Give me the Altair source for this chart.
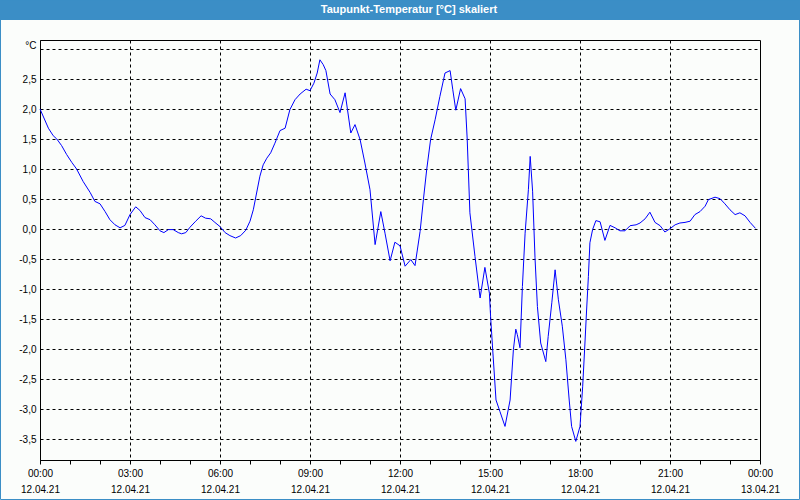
import altair as alt
import pandas as pd

# --- data (hours since 12.04.21 00:00, dew point in °C) ---
hours = [0.0, 0.28, 0.44, 0.56, 0.72, 0.89, 1.06, 1.22, 1.44, 1.67, 1.83, 2.0, 2.17, 2.33, 2.5, 2.67, 2.83,
         3.0, 3.19, 3.33, 3.5, 3.67, 3.83, 4.0, 4.13, 4.28, 4.44, 4.61, 4.72, 4.86, 5.0, 5.19, 5.37, 5.52,
         5.69, 5.83, 6.0, 6.17, 6.33, 6.52, 6.69, 6.86, 7.0, 7.11, 7.22, 7.33, 7.44, 7.56, 7.69, 7.83, 8.0,
         8.17, 8.33, 8.5, 8.67, 8.87, 9.0, 9.13, 9.24, 9.33, 9.44, 9.53, 9.67, 9.83, 10.0, 10.17, 10.36,
         10.5, 10.67, 10.83, 11.0, 11.17, 11.36, 11.5, 11.67, 11.83, 12.0, 12.17, 12.36, 12.5, 12.67,
         12.78, 12.89, 13.02, 13.17, 13.33, 13.5, 13.67, 13.76, 13.86, 14.02, 14.17, 14.24, 14.33, 14.5,
         14.67, 14.83, 14.98, 15.02, 15.09, 15.2, 15.33, 15.5, 15.67, 15.78, 15.86, 15.91, 16.0, 16.08,
         16.17, 16.28, 16.34, 16.42, 16.5, 16.58, 16.69, 16.86, 16.94, 17.06, 17.17, 17.28, 17.41, 17.53,
         17.64, 17.72, 17.86, 18.0, 18.09, 18.17, 18.22, 18.28, 18.33, 18.42, 18.53, 18.67, 18.83, 19.0,
         19.17, 19.33, 19.5, 19.67, 19.87, 20.0, 20.17, 20.33, 20.5, 20.67, 20.83, 21.0, 21.17, 21.33,
         21.5, 21.67, 21.83, 22.0, 22.17, 22.28, 22.5, 22.67, 22.83, 23.0, 23.17, 23.33, 23.5, 23.67, 23.85]
values = [2.0, 1.68, 1.555, 1.5, 1.39, 1.24, 1.11, 1.0, 0.79, 0.61, 0.46, 0.42, 0.29, 0.155, 0.07, 0.02, 0.06,
          0.24, 0.37, 0.31, 0.19, 0.155, 0.07, -0.03, -0.06, -0.01, -0.01, -0.06, -0.08, -0.06, 0.03, 0.13, 0.22, 0.18,
          0.17, 0.11, 0.04, -0.06, -0.11, -0.15, -0.11, -0.02, 0.13, 0.32, 0.6, 0.88, 1.07, 1.18, 1.27, 1.43, 1.64,
          1.68, 1.99, 2.155, 2.25, 2.33, 2.305, 2.43, 2.6, 2.82, 2.74, 2.64, 2.25, 2.155, 1.94, 2.27, 1.6,
          1.74, 1.49, 1.1, 0.655, -0.26, 0.29, -0.07, -0.53, -0.22, -0.28, -0.62, -0.51, -0.61, -0.04,
          0.49, 0.99, 1.49, 1.82, 2.21, 2.6, 2.64, 2.32, 1.98, 2.34, 2.17, 1.5, 0.27, -0.46,
          -1.15, -0.64, -1.07, -1.46, -2.01, -2.85, -3.04, -3.29, -2.85, -2.01, -1.67, -1.76, -1.98, -0.96,
          -0.07, 0.655, 1.21, 0.63, -0.48, -1.29, -1.9, -2.21, -1.79, -1.23, -0.68, -1.18, -1.62, -2.18,
          -2.85, -3.29, -3.54, -3.29, -2.62, -1.85, -1.35, -0.79, -0.23, -0.01, 0.14, 0.12, -0.19, 0.06,
          0.02, -0.03, -0.03, 0.055, 0.07, 0.1, 0.17, 0.28, 0.11, 0.055, -0.05, 0.005, 0.07, 0.1,
          0.11, 0.13, 0.24, 0.29, 0.38, 0.49, 0.53, 0.505, 0.42, 0.32, 0.24, 0.27, 0.22, 0.11, 0.01]

# --- tick labels ---
x_label_hours = [0, 3, 6, 9, 12, 15, 18, 21, 24]
x_label_time = ["00:00", "03:00", "06:00", "09:00", "12:00", "15:00", "18:00", "21:00", "00:00"]
x_label_date = ["12.04.21", "12.04.21", "12.04.21", "12.04.21", "12.04.21", "12.04.21", "12.04.21",
                "12.04.21", "13.04.21"]
x_tick_hours = list(range(0, 25))
y_ticks = [-3.5, -3.0, -2.5, -2.0, -1.5, -1.0, -0.5, 0.0, 0.5, 1.0, 1.5, 2.0, 2.5, 3.0]
y_unit_label = "°C"
title_text = "Taupunkt-Temperatur [°C] skaliert"

df = pd.DataFrame({"t": hours, "v": values})

BLUE = "#3b8ec6"
BG = "#fbfdfb"
FONT = "Liberation Sans"

# build x label expression
x_expr = "''"
for h, tm, dt in reversed(list(zip(x_label_hours, x_label_time, x_label_date))):
    x_expr = f"datum.value == {h} ? ['{tm}', '{dt}'] : ({x_expr})"

y_expr = (f"datum.value > 2.99 ? '{y_unit_label}' : "
          "(datum.value < -0.001 ? '-' : '') + replace(format(abs(datum.value), '.1f'), '.', ',')")

line = alt.Chart(df).mark_line(color="#0000ff", strokeWidth=1).encode(
    x=alt.X("t:Q",
            scale=alt.Scale(domain=[0, 24], nice=False, zero=False),
            axis=alt.Axis(values=x_tick_hours, labelExpr=x_expr, title=None,
                          tickSize=4, tickColor="black", domainColor="black",
                          labelPadding=4, labelLineHeight=16, labelFont=FONT, labelFontSize=10,
                          labelColor="black", labelBaseline="top", labelFlush=False, labelOverlap=False,
                          grid=True, gridColor="black", gridDash=[3, 3],
                          gridOpacity={"condition": {"test": "datum.value % 3 == 0 && datum.value > 0 && datum.value < 24",
                                                     "value": 1}, "value": 0})),
    y=alt.Y("v:Q",
            scale=alt.Scale(domain=[-3.85, 3.15], nice=False, zero=False),
            axis=alt.Axis(values=y_ticks, labelExpr=y_expr, title=None, ticks=False,
                          labelPadding=4, labelFont=FONT, labelFontSize=10, labelColor="black",
                          domainColor="black", labelOverlap=False, labelFlush=False,
                          labelOffset={"condition": {"test": "datum.value > 2.99", "value": -4}, "value": 0},
                          grid=True, gridColor="black", gridDash=[3, 3])),
)

one = alt.Data(values=[{}])
band = alt.Chart(one).mark_rect(color=BLUE).encode(
    x=alt.value(-40), x2=alt.value(760), y=alt.value(-40), y2=alt.value(-20))
title = alt.Chart(one).mark_text(color="white", font=FONT, fontSize=11, fontWeight="bold",
                                 baseline="middle", align="center").encode(
    x=alt.value(369), y=alt.value(-30.5), text=alt.value(title_text))
border = alt.Chart(one).mark_rect(filled=False, stroke=BLUE, strokeWidth=1).encode(
    x=alt.value(-39.5), x2=alt.value(759.5), y=alt.value(-40), y2=alt.value(459.5))

chart = alt.layer(line, band, title, border).properties(
    width=720, height=420,
    padding={"left": 40, "top": 40, "right": 40, "bottom": 40},
    autosize=alt.AutoSizeParams(type="none"),
    background=BG,
).configure_view(stroke="black", strokeWidth=1)

chart.save("out.html", embed_options={"renderer": "svg", "actions": False})
